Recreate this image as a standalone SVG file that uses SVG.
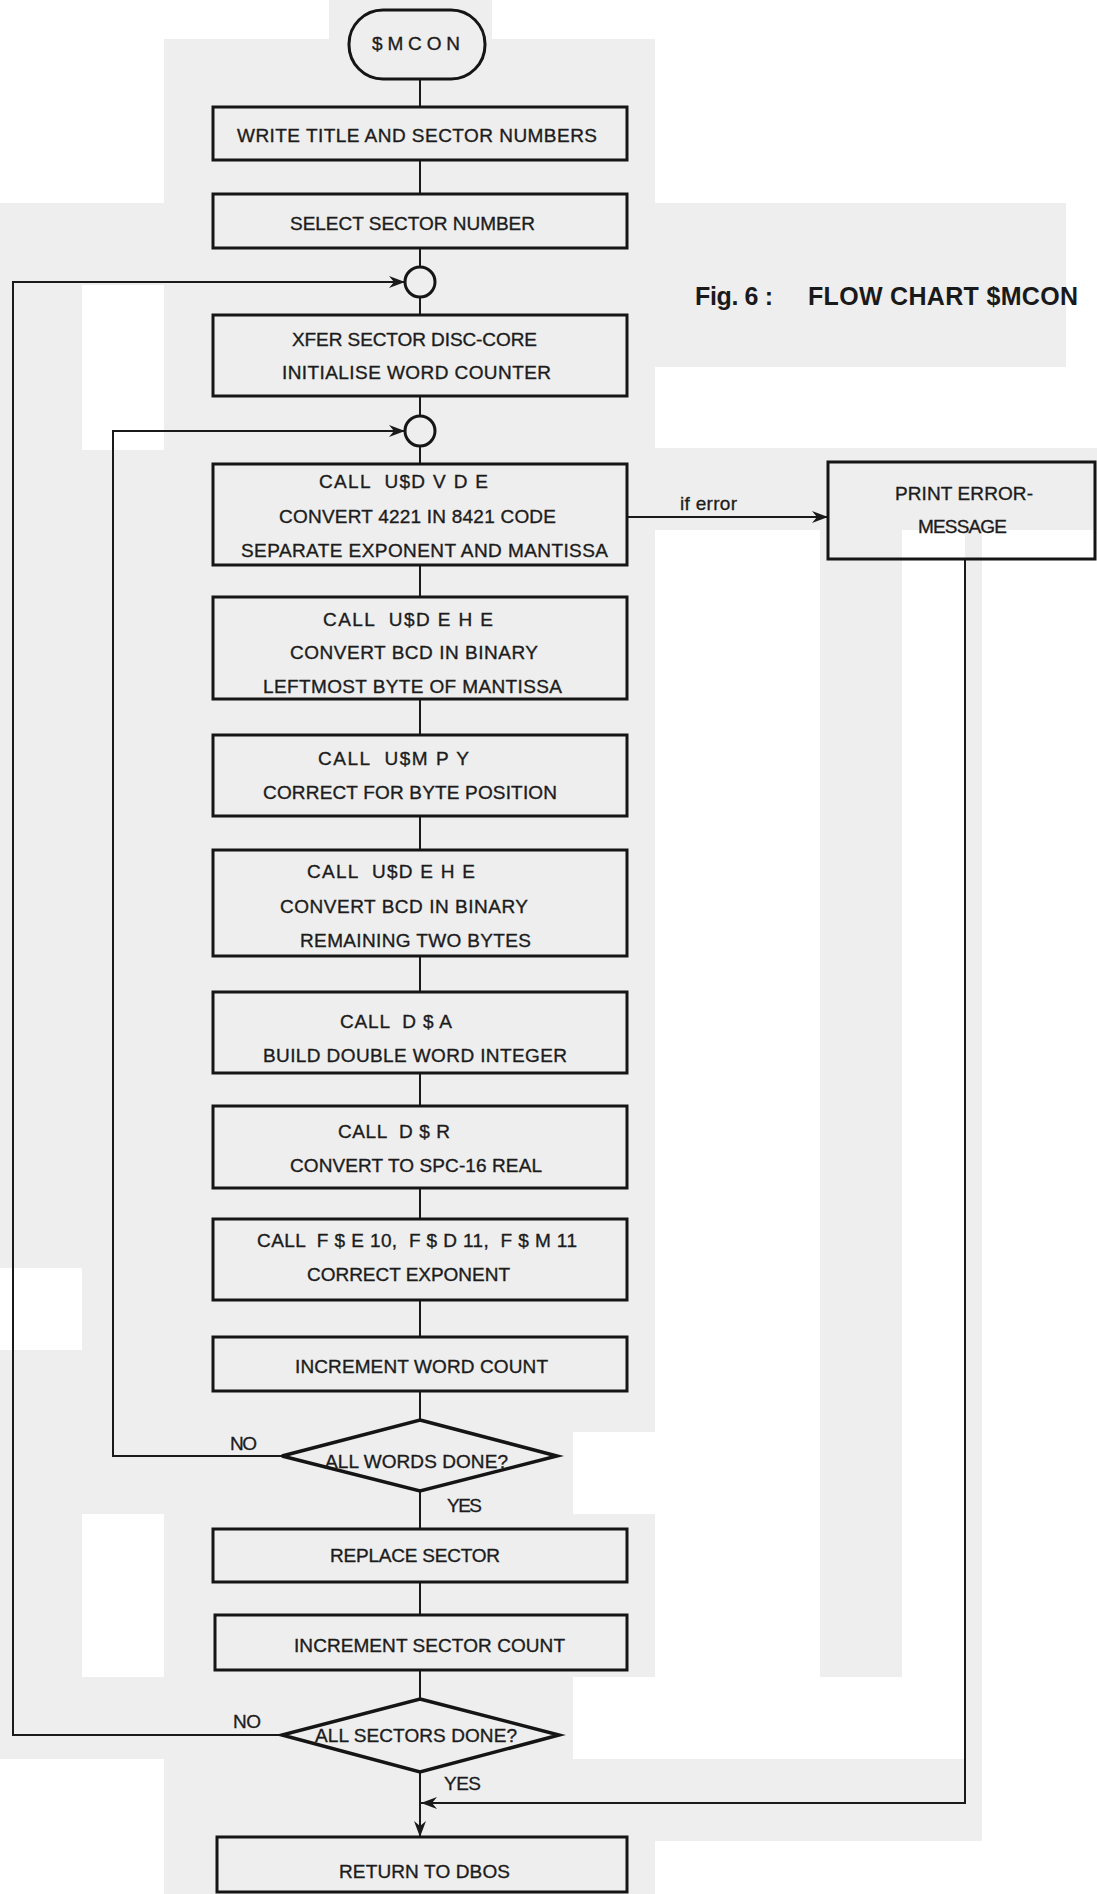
<svg xmlns="http://www.w3.org/2000/svg" width="1097" height="1894" viewBox="0 0 1097 1894">
  <defs>
    <style>
      .box { fill: none; stroke: #151515; stroke-width: 3; }
      .dec { fill: none; stroke: #151515; stroke-width: 3.5; stroke-linejoin: miter; }
      .con { fill: none; stroke: #1a1a1a; stroke-width: 2; }
      .t { font-family: "Liberation Sans", Arial, sans-serif; font-size: 19px; fill: #1c1c1c; stroke: #1c1c1c; stroke-width: 0.35; }
      .lbl { font-family: "Liberation Sans", Arial, sans-serif; font-size: 19px; fill: #1c1c1c; stroke: #1c1c1c; stroke-width: 0.3; }
      .cap { font-family: "Liberation Sans", Arial, sans-serif; font-size: 25px; font-weight: bold; fill: #1a1a1a; }
      .gray { fill: #eeeeee; }
    </style>
    <marker id="arrow" markerUnits="userSpaceOnUse" markerWidth="17" markerHeight="12" refX="16" refY="6" orient="auto">
      <path d="M0,0 L16,6 L0,12 L5,6 Z" fill="#1a1a1a"/>
    </marker>
  </defs>

  <!-- paper tone -->
  <g id="paper">
    <rect x="0" y="0" width="1097" height="1894" fill="#ffffff"/>
    <rect class="gray" x="329" y="0" width="163" height="39"/>
    <rect class="gray" x="164" y="39" width="491" height="164"/>
    <rect class="gray" x="0" y="203" width="1066" height="82"/>
    <rect class="gray" x="0" y="285" width="82" height="983"/>
    <rect class="gray" x="0" y="1350" width="82" height="409"/>
    <rect class="gray" x="82" y="450" width="82" height="1064"/>
    <rect class="gray" x="82" y="1677" width="82" height="82"/>
    <rect class="gray" x="164" y="285" width="491" height="1147"/>
    <rect class="gray" x="164" y="1432" width="409" height="82"/>
    <rect class="gray" x="164" y="1514" width="491" height="163"/>
    <rect class="gray" x="164" y="1677" width="409" height="82"/>
    <rect class="gray" x="164" y="1759" width="818" height="82"/>
    <rect class="gray" x="164" y="1841" width="491" height="53"/>
    <rect class="gray" x="655" y="285" width="411" height="82"/>
    <rect class="gray" x="655" y="448" width="442" height="82"/>
    <rect class="gray" x="820" y="530" width="82" height="1147"/>
    <rect class="gray" x="965" y="530" width="17" height="1311"/>
  </g>

  <!-- connectors -->
  <g id="connectors">
    <path class="con" d="M420,79 V107 M420,160 V194 M420,248 V267 M420,297 V315 M420,396 V416 M420,446 V464 M420,565 V597 M420,699 V735 M420,816 V850 M420,956 V992 M420,1073 V1106 M420,1188 V1219 M420,1300 V1337 M420,1391 V1420 M420,1491 V1529 M420,1582 V1615 M420,1670 V1699"/>
    <!-- inner loop: NO from ALL WORDS DONE? -->
    <path class="con" d="M282,1456 H113 V431 H405" marker-end="url(#arrow)"/>
    <!-- outer loop: NO from ALL SECTORS DONE? -->
    <path class="con" d="M282,1735 H13 V282 H405" marker-end="url(#arrow)"/>
    <!-- error branch -->
    <path class="con" d="M627,517 H828" marker-end="url(#arrow)"/>
    <path class="con" d="M965,559 V1803 H421" marker-end="url(#arrow)"/>
    <!-- YES to exit -->
    <path class="con" d="M420,1772 V1837" marker-end="url(#arrow)"/>
    <text class="lbl" x="680" y="510" textLength="57" lengthAdjust="spacing">if error</text>
    <text class="lbl" x="230" y="1450" textLength="27" lengthAdjust="spacing">NO</text>
    <text class="lbl" x="447" y="1512" textLength="35" lengthAdjust="spacing">YES</text>
    <text class="lbl" x="233" y="1728" textLength="28" lengthAdjust="spacing">NO</text>
    <text class="lbl" x="444" y="1790" textLength="37" lengthAdjust="spacing">YES</text>
  </g>

  <g id="n-start">
    <rect class="box" x="349" y="10" width="136" height="69" rx="34" ry="34"/>
    <text class="t" x="372" y="50" textLength="88" lengthAdjust="spacing">$MCON</text>
  </g>

  <g id="n-write-title">
    <rect class="box" x="213" y="107" width="414" height="53"/>
    <text class="t" x="237" y="142" textLength="360" lengthAdjust="spacing">WRITE TITLE AND SECTOR NUMBERS</text>
  </g>

  <g id="n-select-sector">
    <rect class="box" x="213" y="194" width="414" height="54"/>
    <text class="t" x="290" y="230" textLength="245" lengthAdjust="spacing">SELECT SECTOR NUMBER</text>
  </g>

  <g id="n-join-sector">
    <circle class="box" cx="420" cy="282" r="15"/>
  </g>

  <g id="n-xfer">
    <rect class="box" x="213" y="315" width="414" height="81"/>
    <text class="t" x="292" y="346" textLength="245" lengthAdjust="spacing">XFER SECTOR DISC-CORE</text>
    <text class="t" x="282" y="379" textLength="269" lengthAdjust="spacing">INITIALISE WORD COUNTER</text>
  </g>

  <g id="n-join-word">
    <circle class="box" cx="420" cy="431" r="15"/>
  </g>

  <g id="n-dvde">
    <rect class="box" x="213" y="464" width="414" height="101"/>
    <text class="t" x="319" y="488" textLength="169" lengthAdjust="spacing" xml:space="preserve">CALL  U$D V D E</text>
    <text class="t" x="279" y="523" textLength="277" lengthAdjust="spacing">CONVERT 4221 IN 8421 CODE</text>
    <text class="t" x="241" y="557" textLength="367" lengthAdjust="spacing">SEPARATE EXPONENT AND MANTISSA</text>
  </g>

  <g id="n-error">
    <rect class="box" x="828" y="462" width="267" height="97"/>
    <text class="t" x="895" y="500" textLength="138" lengthAdjust="spacing">PRINT ERROR-</text>
    <text class="t" x="918" y="533" textLength="89" lengthAdjust="spacing">MESSAGE</text>
  </g>

  <g id="n-dehe-1">
    <rect class="box" x="213" y="597" width="414" height="102"/>
    <text class="t" x="323" y="626" textLength="170" lengthAdjust="spacing" xml:space="preserve">CALL  U$D E H E</text>
    <text class="t" x="290" y="659" textLength="248" lengthAdjust="spacing">CONVERT BCD IN BINARY</text>
    <text class="t" x="263" y="693" textLength="299" lengthAdjust="spacing">LEFTMOST BYTE OF MANTISSA</text>
  </g>

  <g id="n-mpy">
    <rect class="box" x="213" y="735" width="414" height="81"/>
    <text class="t" x="318" y="765" textLength="151" lengthAdjust="spacing" xml:space="preserve">CALL  U$M P Y</text>
    <text class="t" x="263" y="799" textLength="294" lengthAdjust="spacing">CORRECT FOR BYTE POSITION</text>
  </g>

  <g id="n-dehe-2">
    <rect class="box" x="213" y="850" width="414" height="106"/>
    <text class="t" x="307" y="878" textLength="168" lengthAdjust="spacing" xml:space="preserve">CALL  U$D E H E</text>
    <text class="t" x="280" y="913" textLength="248" lengthAdjust="spacing">CONVERT BCD IN BINARY</text>
    <text class="t" x="300" y="947" textLength="231" lengthAdjust="spacing">REMAINING TWO BYTES</text>
  </g>

  <g id="n-dsa">
    <rect class="box" x="213" y="992" width="414" height="81"/>
    <text class="t" x="340" y="1028" textLength="112" lengthAdjust="spacing" xml:space="preserve">CALL  D $ A</text>
    <text class="t" x="263" y="1062" textLength="304" lengthAdjust="spacing">BUILD DOUBLE WORD INTEGER</text>
  </g>

  <g id="n-dsr">
    <rect class="box" x="213" y="1106" width="414" height="82"/>
    <text class="t" x="338" y="1138" textLength="112" lengthAdjust="spacing" xml:space="preserve">CALL  D $ R</text>
    <text class="t" x="290" y="1172" textLength="252" lengthAdjust="spacing">CONVERT TO SPC-16 REAL</text>
  </g>

  <g id="n-fse">
    <rect class="box" x="213" y="1219" width="414" height="81"/>
    <text class="t" x="257" y="1247" textLength="320" lengthAdjust="spacing" xml:space="preserve">CALL  F $ E 10,  F $ D 11,  F $ M 11</text>
    <text class="t" x="307" y="1281" textLength="203" lengthAdjust="spacing">CORRECT EXPONENT</text>
  </g>

  <g id="n-inc-word">
    <rect class="box" x="213" y="1337" width="414" height="54"/>
    <text class="t" x="295" y="1373" textLength="253" lengthAdjust="spacing">INCREMENT WORD COUNT</text>
  </g>

  <g id="n-words-done">
    <polygon class="dec" points="420,1420 557,1456 420,1491 282,1456"/>
    <text class="t" x="325" y="1468" textLength="183" lengthAdjust="spacing">ALL WORDS DONE?</text>
  </g>

  <g id="n-replace">
    <rect class="box" x="213" y="1529" width="414" height="53"/>
    <text class="t" x="330" y="1562" textLength="170" lengthAdjust="spacing">REPLACE SECTOR</text>
  </g>

  <g id="n-inc-sector">
    <rect class="box" x="215" y="1615" width="412" height="55"/>
    <text class="t" x="294" y="1652" textLength="271" lengthAdjust="spacing">INCREMENT SECTOR COUNT</text>
  </g>

  <g id="n-sectors-done">
    <polygon class="dec" points="420,1699 559,1735 420,1772 282,1735"/>
    <text class="t" x="315" y="1742" textLength="202" lengthAdjust="spacing">ALL SECTORS DONE?</text>
  </g>

  <g id="n-return">
    <rect class="box" x="217" y="1837" width="410" height="55"/>
    <text class="t" x="339" y="1878" textLength="171" lengthAdjust="spacing">RETURN TO DBOS</text>
  </g>

  <g id="caption">
    <text class="cap" x="695" y="305" textLength="78" lengthAdjust="spacing">Fig. 6 :</text>
    <text class="cap" x="808" y="305" textLength="270" lengthAdjust="spacing">FLOW CHART $MCON</text>
  </g>
</svg>
